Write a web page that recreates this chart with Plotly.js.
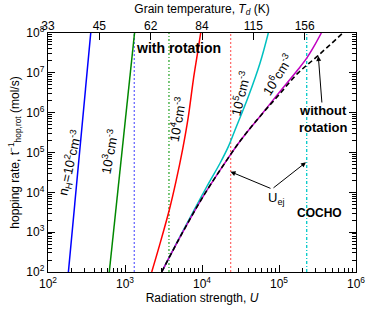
<!DOCTYPE html>
<html><head><meta charset="utf-8">
<script src="https://cdn.plot.ly/plotly-3.0.1.min.js"></script>
<style>html,body{margin:0;padding:0;background:#fff}#chart{width:373px;height:309px}</style>
</head><body><div id="chart"></div>
<script>
// Radiation strength U and hopping rate (mol/s)
const blueU = [184, 359];
const blueRate = [1e2, 1e8];
const greenU = [625, 1330];
const greenRate = [1e2, 1e8];
const redU = [2223, 2818, 3758, 4571, 5610, 6607, 7709, 8710, 9616];
const redRate = [1e2, 479, 3.6e3, 1.8e4, 1.22e5, 7.4e5, 6.6e6, 2.95e7, 1e8];
const cyanU = [2992, 5623, 11510, 17140, 21980, 26850, 39900, 56620, 72610];
const cyanRate = [1e2, 1047, 1.38e4, 5.37e4, 1.40e5, 3.67e5, 2.51e6, 1.74e7, 1e8];
const magU = [2992, 5623, 10000, 17780, 31620, 56230, 100000, 177800, 229100, 281800, 354800];
const magRate = [1e2, 1e3, 7079, 3.98e4, 2.0e5, 7.94e5, 3.16e6, 1.23e7, 2.34e7, 4.47e7, 1e8];
const noRotU = [2992, 5623, 10000, 17780, 31620, 56230, 100000, 177800, 316200, 676100];
const noRotRate = [1e2, 1e3, 7079, 3.98e4, 2.0e5, 7.94e5, 2.82e6, 1e7, 2.63e7, 1e8];
// U_ej vertical markers
const uejU = [1320, 3724, 23550, 229000];
const uejColors = ['#6a6aff', '#33aa33', '#ff7070', '#00c8c8'];
const uejDash = ['2px,2px', '2px,2px,1px,2px', '2px,2px', '3px,2px,1px,2px'];
const rateSpan = [1e2, 1e8];
// axis tick values and labels
const xTickVals = [1e2, 1e3, 1e4, 1e5, 1e6];
const xTickText = ['10<sup>2</sup>', '10<sup>3</sup>', '10<sup>4</sup>', '10<sup>5</sup>', '10<sup>6</sup>'];
const yTickVals = [1e2, 1e3, 1e4, 1e5, 1e6, 1e7, 1e8];
const yTickText = ['10<sup>2</sup>', '10<sup>3</sup>', '10<sup>4</sup>', '10<sup>5</sup>', '10<sup>6</sup>', '10<sup>7</sup>', '10<sup>8</sup>'];
// top axis: grain temperature
const tempU = [100, 464, 2154, 10000, 46420, 215400];
const tempLabels = ['33', '45', '62', '84', '115', '156'];
// minor tick values (2..9 within each decade)
const minorX = [], minorY = [];
for (let d = 2; d < 8; d++) for (let m = 2; m <= 9; m++) {
  const v = m * Math.pow(10, d);
  if (d < 6) minorX.push(v);
  minorY.push(v);
}

const F = 'Liberation Sans, Arial, sans-serif';
const traces = [];
uejU.forEach((u, i) => traces.push({x: [u, u], y: rateSpan, mode: 'lines',
  line: {color: uejColors[i], width: 1.3, dash: uejDash[i]}, hoverinfo: 'skip'}));
const curves = [
  [blueU, blueRate, '#0000ff', 'linear'],
  [greenU, greenRate, '#008800', 'linear'],
  [redU, redRate, '#ff0000', 'spline'],
  [cyanU, cyanRate, '#00c0c0', 'spline'],
  [magU, magRate, '#c000c0', 'spline']
];
curves.forEach(c => traces.push({x: c[0], y: c[1], mode: 'lines',
  line: {color: c[2], width: 1.5, shape: c[3]}, hoverinfo: 'skip'}));
traces.push({x: noRotU, y: noRotRate, mode: 'lines',
  line: {color: '#000', width: 1.6, dash: '5px,3px', shape: 'spline'}, hoverinfo: 'skip'});
traces.push({x: [tempU[0]], y: [rateSpan[0]], xaxis: 'x2', mode: 'markers',
  marker: {opacity: 0}, hoverinfo: 'skip'});

const P = (px) => (px - 48) / 308;
const Q = (py) => (272 - py) / 239;
const lab = (text, px, py, ang, size, bold) => ({xref: 'paper', yref: 'paper', x: P(px), y: Q(py),
  text: bold ? '<b>' + text + '</b>' : text, showarrow: false, textangle: ang,
  font: {family: F, size: size, color: '#000'}, xanchor: 'center', yanchor: 'middle'});
const arr = (hx, hy, tx, ty) => ({xref: 'paper', yref: 'paper', x: P(hx), y: Q(hy), ax: tx - hx, ay: ty - hy,
  text: '', showarrow: true, arrowhead: 2, arrowsize: 1, arrowwidth: 1, arrowcolor: '#000'});
const minorSpec = (vals) => ({ticks: 'inside', ticklen: 4, tickwidth: 1, tickcolor: '#000',
  tickmode: 'array', tickvals: vals, showgrid: false});

const layout = {
  width: 373, height: 309, showlegend: false,
  margin: {l: 48, r: 17, t: 33, b: 37},
  paper_bgcolor: '#fff', plot_bgcolor: '#fff',
  font: {family: F, size: 12, color: '#000'},
  xaxis: {type: 'log', range: [2, 6], tickmode: 'array', tickvals: xTickVals, ticktext: xTickText,
    ticks: 'inside', ticklen: 7, tickwidth: 1, tickcolor: '#000', showline: true, linecolor: '#000', linewidth: 1.2,
    mirror: true, showgrid: false, zeroline: false, tickfont: {size: 12},
    minor: minorSpec(minorX),
    title: {text: 'Radiation strength, <i>U</i>', font: {size: 12}, standoff: 4}},
  xaxis2: {type: 'log', range: [2, 6], overlaying: 'x', side: 'top', anchor: 'y',
    tickmode: 'array', tickvals: tempU, ticktext: tempLabels, ticks: 'inside', ticklen: 7,
    tickcolor: '#000', showline: false, showgrid: false, zeroline: false, tickfont: {size: 12},
    title: {text: 'Grain temperature, <i>T<sub>d</sub></i> (K)', font: {size: 12}, standoff: 2}},
  yaxis: {type: 'log', range: [2, 8], tickmode: 'array', tickvals: yTickVals, ticktext: yTickText,
    ticks: 'inside', ticklen: 7, tickwidth: 1, tickcolor: '#000', showline: true, linecolor: '#000', linewidth: 1.2,
    mirror: 'ticks', showgrid: false, zeroline: false, tickfont: {size: 12},
    minor: minorSpec(minorY),
    title: {text: 'hopping rate, t<sup>−1</sup><sub>hop,rot</sub> (mol/s)', font: {size: 12}, standoff: 4}},
  annotations: [
    lab('n<sub>H</sub>=10<sup>2</sup>cm<sup>-3</sup>', 70, 163, -77, 13, false),
    lab('10<sup>3</sup>cm<sup>-3</sup>', 109, 152, -79, 13, false),
    lab('10<sup>4</sup>cm<sup>-3</sup>', 177, 120, -80, 13, false),
    lab('10<sup>5</sup>cm<sup>-3</sup>', 240, 94, -76, 13, false),
    lab('10<sup>6</sup>cm<sup>-3</sup>', 277, 75, -58, 13, false),
    lab('with rotation', 178.5, 48, 0, 14, true),
    lab('without<br>rotation', 323, 119, 0, 13, true),
    lab('COCHO', 319, 213, 0, 12, true),
    lab('U<sub>ej</sub>', 276, 198, 0, 13, false),
    arr(230.5, 171.7, 272, 189),
    arr(306, 162.3, 272, 189),
    arr(318.3, 56, 322, 104)
  ]
};
Plotly.newPlot('chart', traces, layout, {staticPlot: true, displayModeBar: false});
</script></body></html>
